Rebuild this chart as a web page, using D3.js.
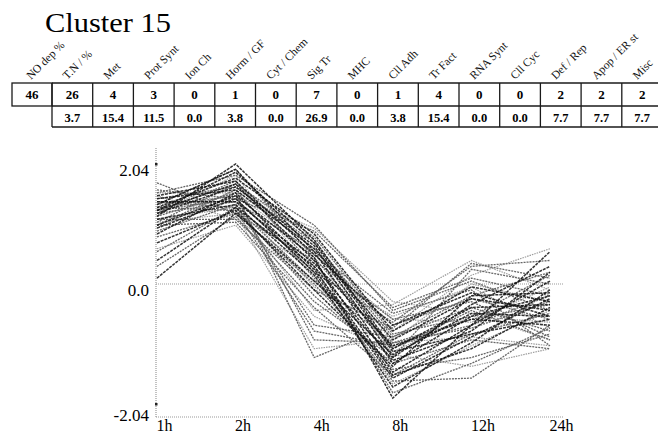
<!DOCTYPE html>
<html>
<head>
<meta charset="utf-8">
<script src="https://cdn.jsdelivr.net/npm/d3@7"></script>
<style>
  html, body { margin: 0; padding: 0; background: #fff; }
  svg { display: block; }
  text { font-family: "Liberation Serif", "Times New Roman", serif; }
</style>
</head>
<body>
<div id="chart"></div>
<script>
// Functional category counts for the cluster
const title = "Cluster 15";
const totalCount = 46;
const categories = ["T.N / %", "Met", "Prot Synt", "Ion Ch", "Horm / GF", "Cyt / Chem", "Sig Tr",
  "MHC", "Cll Adh", "Tr Fact", "RNA Synt", "Cll Cyc", "Def / Rep", "Apop / ER st", "Misc"];
const counts =   ["26", "4", "3", "0", "1", "0", "7", "0", "1", "4", "0", "0", "2", "2", "2"];
const percents = ["3.7", "15.4", "11.5", "0.0", "3.8", "0.0", "26.9", "0.0", "3.8", "15.4", "0.0", "0.0", "7.7", "7.7", "7.7"];

// Time points and expression profiles (log ratio) of the cluster members
const timePoints = ["1h", "2h", "4h", "8h", "12h", "24h"];
const yTicks = [2.04, 0.0, -2.04];
const yTickLabels = ["2.04", "0.0", "-2.04"];

const lightProfiles = [
  [1.50, 1.10, 0.25, -0.55, -0.05, -0.75],
  [1.10, 1.30, -0.45, -0.35, 0.40, -0.10],
  [0.95, 1.60, 0.60, -1.20, -1.40, -1.10],
  [1.35, 1.50, 0.95, -0.30, -0.50, -0.95],
  [1.20, 1.85, 0.15, -1.70, -1.05, -0.45],
  [0.60, 1.00, -0.55, -1.15, -0.55, -0.65],
  [1.40, 1.40, -0.05, -0.80, 0.15, 0.60],
  [1.25, 1.70, 0.75, -1.00, -0.90, -1.05],
  [1.05, 1.20, -1.10, -0.95, 0.00, -0.30],
  [1.55, 1.55, 0.50, -0.60, -0.65, -0.05]
];
const grayProfiles = [
  [1.72, 1.20, 0.40, -0.60, -0.30, -0.90],
  [1.60, 1.45, 0.90, -0.40, 0.10, -0.20],
  [1.10, 1.10, -0.10, -0.75, 0.35, 0.10],
  [0.90, 1.35, -0.70, -0.90, -0.40, -0.80],
  [1.30, 1.50, -0.95, -1.00, -0.60, -0.35],
  [1.00, 1.60, 0.10, -1.65, -1.60, -0.70],
  [1.20, 1.40, 0.55, -0.50, -0.10, -1.05],
  [0.30, 1.15, -0.30, -1.25, 0.25, 0.00],
  [1.55, 1.85, 1.00, -0.45, 0.05, -0.45],
  [1.40, 1.30, -0.20, -1.35, -0.95, -1.10],
  [1.05, 1.70, 0.80, -0.85, -0.55, 0.15],
  [1.15, 1.55, -1.25, -0.70, -0.25, -0.60],
  [0.80, 1.20, 0.00, -1.45, -1.25, -0.85],
  [1.35, 1.95, 0.45, -1.10, -0.45, -0.95],
  [1.25, 1.45, 0.20, -0.65, 0.30, 0.40],
  [0.55, 1.30, 0.05, -1.00, -0.75, -0.30],
  [1.45, 1.65, 0.70, -0.90, -0.20, 0.20],
  [1.00, 1.05, -0.40, -1.55, -0.85, -0.50],
  [1.20, 1.75, 0.30, -1.85, -1.35, -0.75],
  [1.30, 1.25, -0.80, -1.05, -0.70, -0.20]
];
const darkProfiles = [
  [1.35, 1.95, 0.55, -1.35, -0.55, -0.20],
  [1.15, 2.04, 0.75, -1.10, -0.40, -0.35],
  [1.25, 1.70, 0.40, -1.50, -0.70, 0.05],
  [0.95, 1.45, 0.20, -1.60, -0.90, -0.25],
  [1.45, 1.60, 0.60, -0.95, -0.25, -0.45],
  [0.10, 1.20, 0.05, -1.20, -0.50, -0.55],
  [0.40, 1.30, 0.30, -1.30, -0.80, 0.20],
  [1.10, 1.35, 0.15, -1.75, -1.00, -0.10],
  [1.30, 1.80, 0.85, -0.80, -0.05, -0.30],
  [1.00, 1.50, 0.45, -1.94, -0.70, 0.55],
  [1.40, 1.40, 0.35, -1.05, -0.60, -0.70],
  [0.70, 1.25, -0.10, -1.40, -0.20, -0.15],
  [1.20, 1.65, 0.65, -1.25, -0.35, 0.30],
  [1.50, 1.75, 0.50, -0.70, -0.15, -0.55],
  [0.85, 1.55, 0.25, -1.55, -1.10, -0.40],
  [1.25, 1.90, 0.70, -1.15, -0.85, -0.60]
];

const W = 658, H = 435;
const svg = d3.select("#chart").append("svg").attr("width", W).attr("height", H);

// ---- Title ----
svg.append("text").attr("x", 45).attr("y", 32)
  .attr("font-size", 28).attr("fill", "#000")
  .attr("textLength", 126).attr("lengthAdjust", "spacingAndGlyphs").text(title);

// ---- Category table ----
const firstCol = {x0: 12, x1: 52};
const colW = 40.7;
const rowTop = 83, rowMid = 106, rowBot = 127;
const colX = d3.scaleLinear().domain([0, categories.length]).range([firstCol.x1, firstCol.x1 + colW * categories.length]);
const tbl = svg.append("g");

// header labels, slanted at 45 degrees
const headers = ["NO dep %"].concat(categories);
const headerX = i => i === 0 ? (firstCol.x0 + firstCol.x1) / 2 - 1 : colX(i - 1) + colW / 2 - 5;
tbl.selectAll("text.hdr").data(headers).join("text").attr("class", "hdr")
  .attr("x", 0).attr("y", 0)
  .attr("transform", (d, i) => "translate(" + headerX(i) + ",80) rotate(-45)")
  .attr("font-size", 11.5).attr("fill", "#111").text(d => d);

const lineStyle = sel => sel.attr("stroke", "#1a1a1a").attr("stroke-width", 1.3);
// first cell
tbl.append("rect").attr("x", firstCol.x0).attr("y", rowTop)
  .attr("width", firstCol.x1 - firstCol.x0).attr("height", rowMid - rowTop)
  .attr("fill", "none").call(lineStyle);
// horizontal rules
[rowTop, rowMid, rowBot].forEach(yy => {
  lineStyle(tbl.append("line").attr("x1", firstCol.x1).attr("x2", W + 20).attr("y1", yy).attr("y2", yy));
});
// vertical rules
tbl.selectAll("line.v").data(d3.range(categories.length + 1)).join("line").attr("class", "v")
  .attr("x1", i => colX(i)).attr("x2", i => colX(i))
  .attr("y1", rowTop).attr("y2", rowBot).call(lineStyle);

tbl.append("text").attr("x", (firstCol.x0 + firstCol.x1) / 2).attr("y", rowMid - 7)
  .attr("text-anchor", "middle").attr("font-size", 13).attr("font-weight", "bold").text(totalCount);
tbl.selectAll("text.cnt").data(counts).join("text").attr("class", "cnt")
  .attr("x", (d, i) => colX(i) + colW / 2).attr("y", rowMid - 7)
  .attr("text-anchor", "middle").attr("font-size", 13).attr("font-weight", "bold").text(d => d);
tbl.selectAll("text.pct").data(percents).join("text").attr("class", "pct")
  .attr("x", (d, i) => colX(i) + colW / 2).attr("y", rowBot - 5)
  .attr("text-anchor", "middle").attr("font-size", 12.5).attr("font-weight", "bold").text(d => d);

// ---- Profile plot ----
const x = d3.scalePoint().domain(timePoints).range([157, 550]);
const y = d3.scaleLinear().domain([-2.04, 2.04]).range([404, 164]);
const axisX = 156, axisBottom = 417, axisTop = 148, plotRight = 563;

const guides = svg.append("g").attr("stroke", "#9a9a9a").attr("stroke-width", 1.2)
  .attr("stroke-dasharray", "1,1");
guides.append("line").attr("x1", axisX).attr("x2", axisX).attr("y1", axisTop).attr("y2", axisBottom);
guides.append("line").attr("x1", axisX).attr("x2", plotRight).attr("y1", axisBottom).attr("y2", axisBottom);
guides.append("line").attr("x1", axisX).attr("x2", plotRight).attr("y1", y(0)).attr("y2", y(0));

const line = d3.line().x((d, i) => x(timePoints[i])).y(d => y(d));
const plot = svg.append("g");
plot.selectAll("path.l").data(lightProfiles).join("path").attr("class", "l")
  .attr("d", line).attr("fill", "none").attr("stroke", "#9c9c9c")
  .attr("stroke-width", 1.2).attr("stroke-dasharray", "1.5,1");
plot.selectAll("path.g").data(grayProfiles).join("path").attr("class", "g")
  .attr("d", line).attr("fill", "none").attr("stroke", "#666")
  .attr("stroke-width", 1.3).attr("stroke-dasharray", "2,1");
plot.selectAll("path.k").data(darkProfiles).join("path").attr("class", "k")
  .attr("d", line).attr("fill", "none").attr("stroke", "#111")
  .attr("stroke-width", 1.5).attr("stroke-opacity", 0.85).attr("stroke-dasharray", "3,1");

// y-axis labels
const yAxis = d3.axisLeft(y).tickValues(yTicks).tickSize(0)
  .tickFormat((d, i) => yTickLabels[i]);
const gy = svg.append("g").attr("transform", "translate(" + (axisX - 4) + ",0)").call(yAxis);
gy.select(".domain").remove();
gy.selectAll("text").attr("font-family", "Liberation Serif, serif").attr("font-size", 17)
  .attr("fill", "#000").attr("dy", (d, i) => i === 2 ? "0.95em" : "0.7em");
svg.selectAll("rect.ymark").data([2.04, -2.04]).join("rect").attr("class", "ymark")
  .attr("x", axisX - 1).attr("y", d => y(d) - 1).attr("width", 2.5).attr("height", 2.5).attr("fill", "#222");

// x-axis labels
const xAxis = d3.axisBottom(x).tickSize(0);
const gx = svg.append("g").attr("transform", "translate(0," + axisBottom + ")").call(xAxis);
gx.select(".domain").remove();
gx.selectAll("text").attr("font-family", "Liberation Serif, serif").attr("font-size", 16)
  .attr("fill", "#000").attr("text-anchor", "start").attr("dy", "0.9em").attr("y", 0).attr("dx", -1);
</script>
</body>
</html>
